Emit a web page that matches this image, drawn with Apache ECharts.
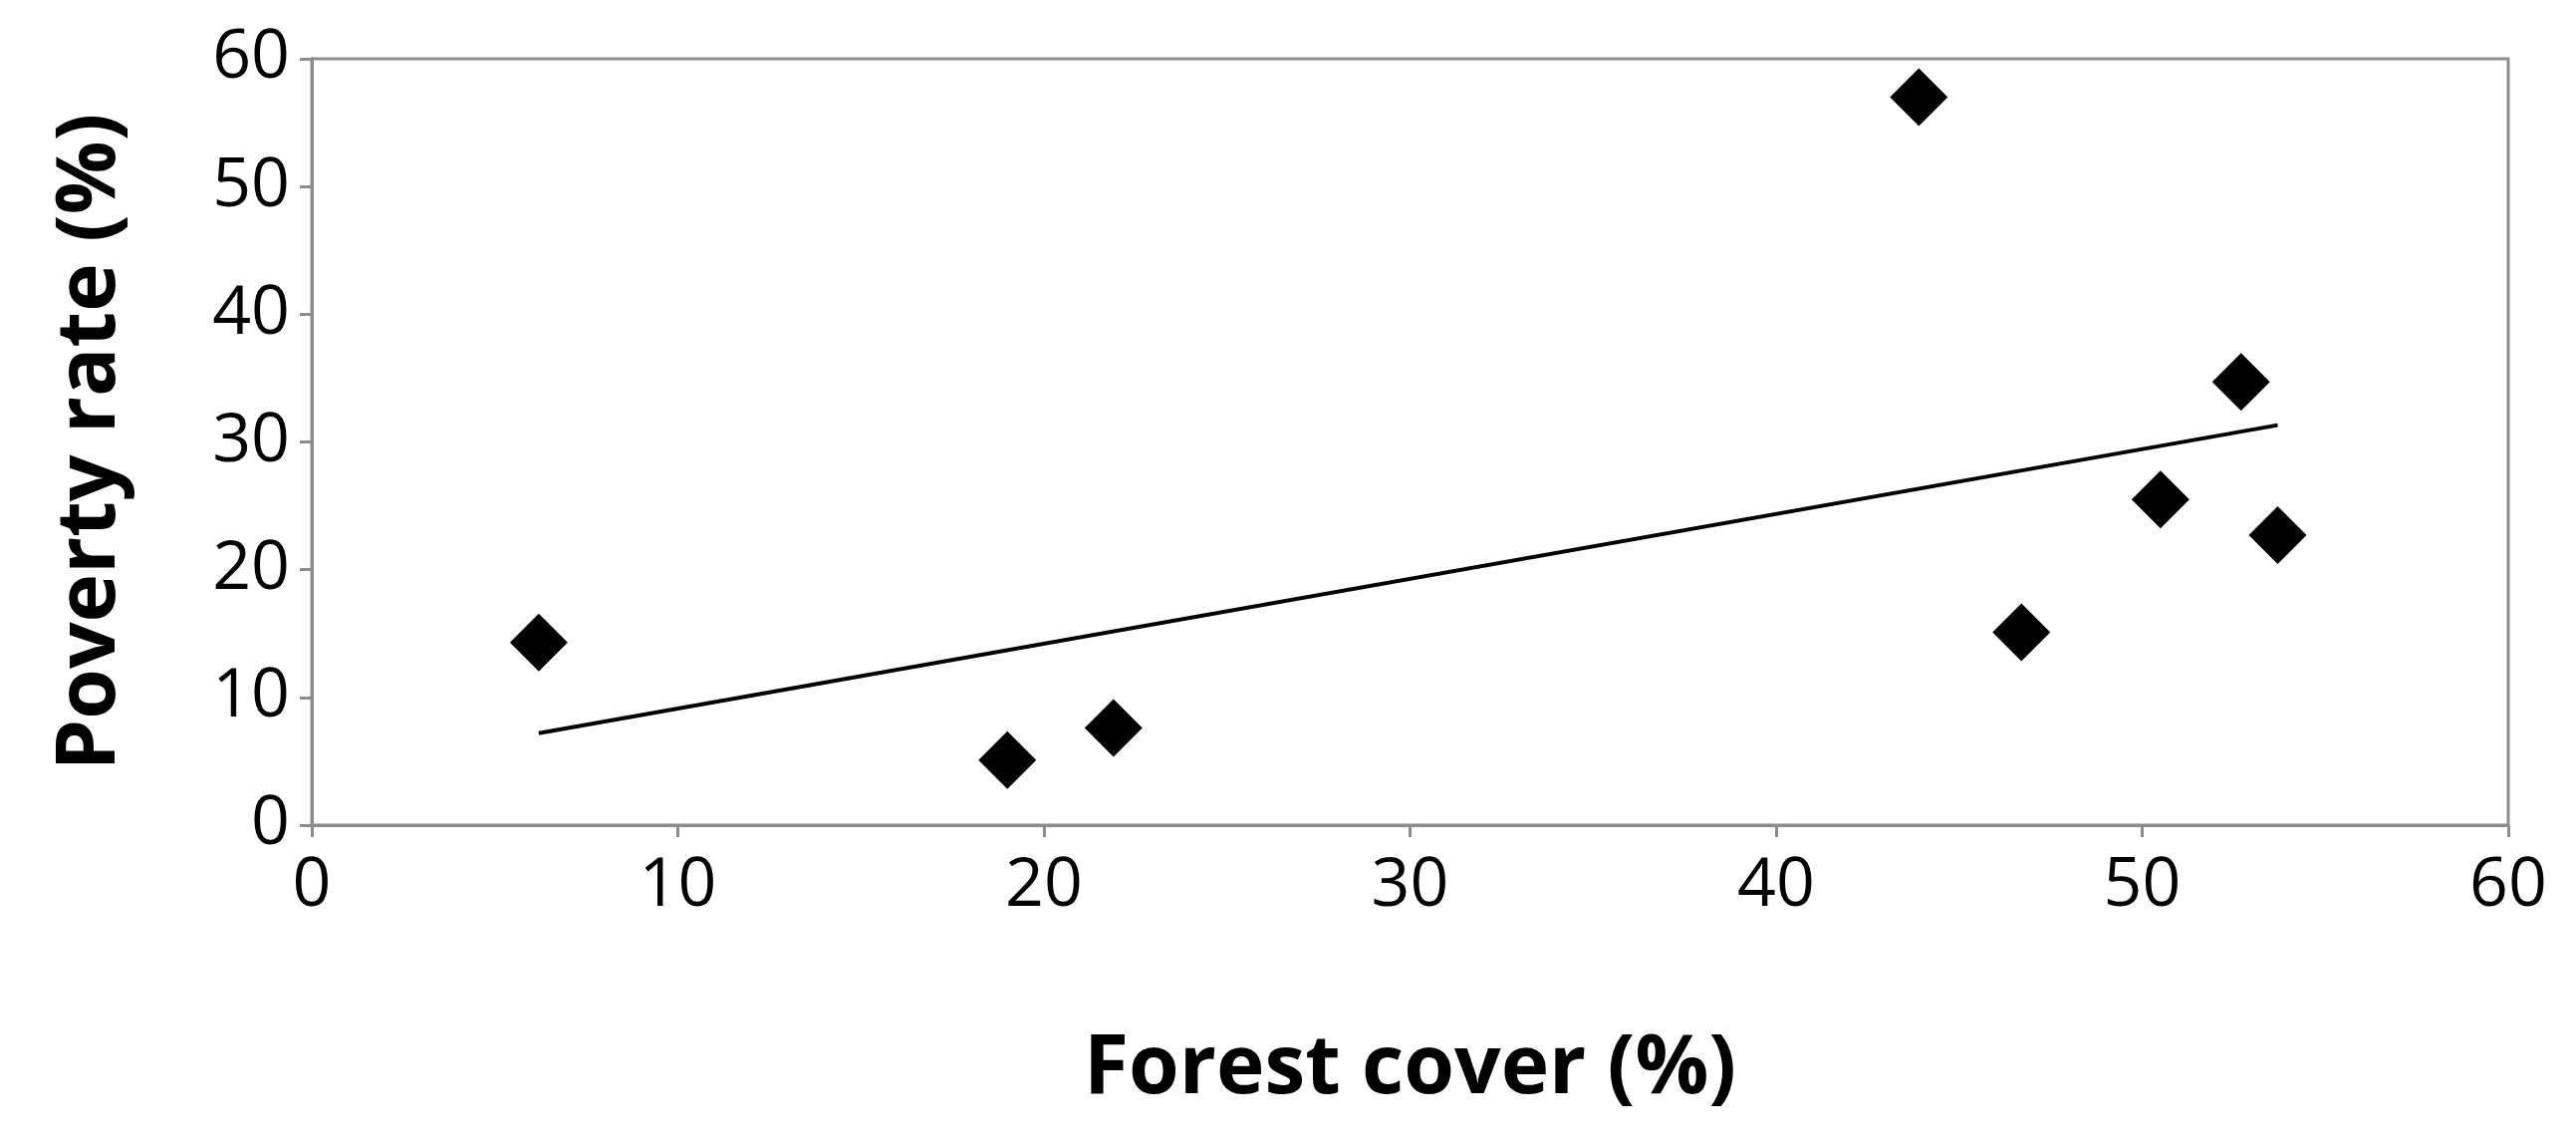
<!DOCTYPE html>
<html><head><meta charset="utf-8">
<script src="https://cdn.jsdelivr.net/npm/echarts@6/dist/echarts.min.js"></script>
<style>html,body{margin:0;padding:0;background:#fff}#c{width:2586px;height:1150px}</style>
</head><body><div id="c"></div>
<script>
// forest cover vs poverty rate
const forestCover = [6.2, 19.0, 21.9, 43.9, 46.7, 50.5, 52.7, 53.7];
const povertyRate = [14.3, 5.1, 7.6, 57.0, 15.1, 25.5, 34.7, 22.7];

// least squares trendline
const n = forestCover.length;
const mx = forestCover.reduce((a, b) => a + b, 0) / n;
const my = povertyRate.reduce((a, b) => a + b, 0) / n;
let sxy = 0, sxx = 0;
for (let i = 0; i < n; i++) {
  sxy += (forestCover[i] - mx) * (povertyRate[i] - my);
  sxx += (forestCover[i] - mx) ** 2;
}
const slope = sxy / sxx, icpt = my - slope * mx;
const xMin = Math.min(...forestCover), xMax = Math.max(...forestCover);
const trend = [[xMin, icpt + slope * xMin], [xMax, icpt + slope * xMax]];

const font = "'Open Sans', 'Liberation Sans', sans-serif";
const tick = { show: true, length: 12, lineStyle: { color: '#8c8c8c', width: 3 } };
const chart = echarts.init(document.getElementById('c'));
chart.setOption({
  animation: false,
  grid: { left: 313, right: 68, top: 59, bottom: 322 },
  xAxis: {
    type: 'value', min: 0, max: 60, interval: 10,
    name: 'Forest cover (%)', nameLocation: 'middle', nameGap: 205,
    nameTextStyle: { fontFamily: font, fontSize: 82, fontWeight: 'bold', color: '#000' },
    axisLine: { lineStyle: { color: '#8c8c8c', width: 3 } }, axisTick: tick,
    splitLine: { show: false },
    axisLabel: { fontFamily: font, fontSize: 68, color: '#000', margin: 28 }
  },
  yAxis: {
    type: 'value', min: 0, max: 60, interval: 10,
    name: 'Poverty rate (%)', nameLocation: 'middle', nameGap: 180,
    nameTextStyle: { fontFamily: font, fontSize: 82, fontWeight: 'bold', color: '#000' },
    axisLine: { show: true, lineStyle: { color: '#8c8c8c', width: 3 } }, axisTick: tick,
    splitLine: { show: false },
    axisLabel: { fontFamily: font, fontSize: 68, color: '#000', margin: 22 }
  },
  series: [
    {
      type: 'scatter', symbol: 'diamond', symbolSize: 58,
      itemStyle: { color: '#000', opacity: 1 },
      data: forestCover.map((x, i) => [x, povertyRate[i]])
    },
    {
      type: 'line', data: trend, symbol: 'none',
      lineStyle: { color: '#000', width: 4 }
    }
  ],
  graphic: [{
    type: 'rect', shape: { x: 313, y: 59, width: 2205, height: 769 },
    style: { fill: 'none', stroke: '#8c8c8c', lineWidth: 3 }, silent: true
  }]
});
</script></body></html>
